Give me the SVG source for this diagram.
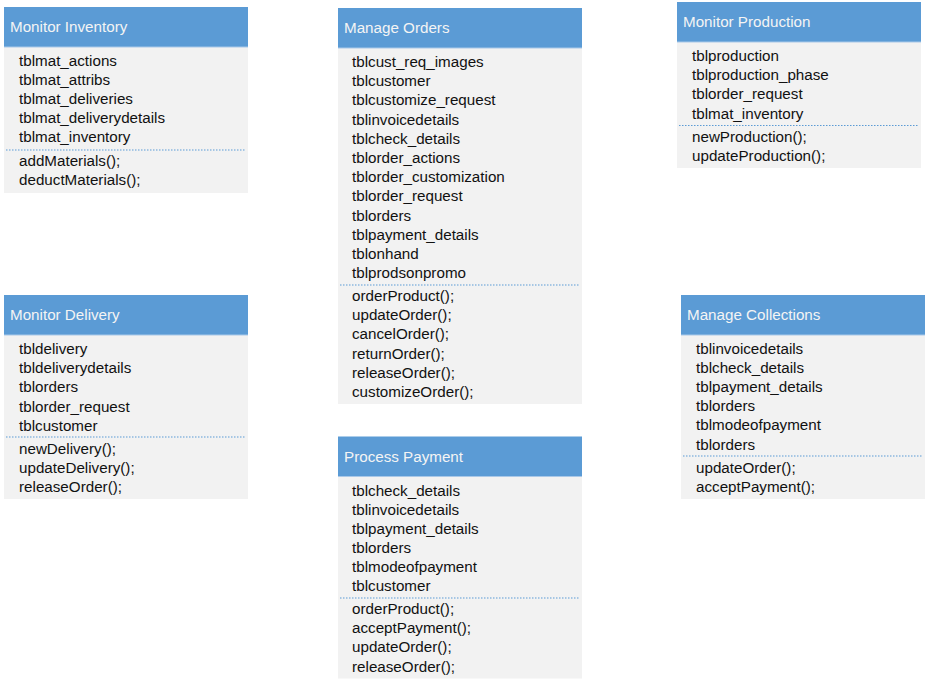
<svg xmlns="http://www.w3.org/2000/svg" width="927" height="685" viewBox="0 0 927 685">
<style>
.hd{fill:#5B9BD5}
.bd{fill:#F2F2F2}
.sep{stroke:#5B9BD5;stroke-width:1;stroke-dasharray:1.5 1.5}
.hl{stroke:#A9C8E8;stroke-width:1}
.ht{font-family:"Liberation Sans",Arial,sans-serif;font-size:15.2px;fill:#F4F4F4}
.t{font-family:"Liberation Sans",Arial,sans-serif;font-size:15.2px;fill:#111111}
</style>
<rect width="927" height="685" fill="#FFFFFF"/>
<g id="connectors"></g>

<g id="monitor-inventory">
<rect class="bd" x="4" y="47" width="244" height="146"/>
<rect class="hd" x="4" y="7" width="244" height="40"/>
<line class="hl" x1="4" y1="47" x2="248" y2="47"/>
<text class="ht" x="10" y="32">Monitor Inventory</text>
<text class="t" x="19" y="66">tblmat_actions</text>
<text class="t" x="19" y="85.1">tblmat_attribs</text>
<text class="t" x="19" y="104.2">tblmat_deliveries</text>
<text class="t" x="19" y="123.3">tblmat_deliverydetails</text>
<text class="t" x="19" y="142.4">tblmat_inventory</text>
<line class="sep" x1="6" y1="150" x2="246" y2="150"/>
<text class="t" x="19" y="166">addMaterials();</text>
<text class="t" x="19" y="185">deductMaterials();</text>
</g>

<g id="manage-orders">
<rect class="bd" x="338" y="48" width="244" height="356"/>
<rect class="hd" x="338" y="8" width="244" height="40"/>
<line class="hl" x1="338" y1="48" x2="582" y2="48"/>
<text class="ht" x="344" y="33">Manage Orders</text>
<text class="t" x="352" y="67">tblcust_req_images</text>
<text class="t" x="352" y="86.2">tblcustomer</text>
<text class="t" x="352" y="105.4">tblcustomize_request</text>
<text class="t" x="352" y="124.6">tblinvoicedetails</text>
<text class="t" x="352" y="143.8">tblcheck_details</text>
<text class="t" x="352" y="163">tblorder_actions</text>
<text class="t" x="352" y="182.2">tblorder_customization</text>
<text class="t" x="352" y="201.4">tblorder_request</text>
<text class="t" x="352" y="220.6">tblorders</text>
<text class="t" x="352" y="239.8">tblpayment_details</text>
<text class="t" x="352" y="259">tblonhand</text>
<text class="t" x="352" y="278.2">tblprodsonpromo</text>
<line class="sep" x1="340" y1="285" x2="580" y2="285"/>
<text class="t" x="352" y="301">orderProduct();</text>
<text class="t" x="352" y="320.2">updateOrder();</text>
<text class="t" x="352" y="339.4">cancelOrder();</text>
<text class="t" x="352" y="358.6">returnOrder();</text>
<text class="t" x="352" y="377.8">releaseOrder();</text>
<text class="t" x="352" y="397">customizeOrder();</text>
</g>

<g id="monitor-production">
<rect class="bd" x="677" y="42" width="244" height="126"/>
<rect class="hd" x="677" y="2" width="244" height="40"/>
<line class="hl" x1="677" y1="42" x2="921" y2="42"/>
<text class="ht" x="683" y="27">Monitor Production</text>
<text class="t" x="692" y="61">tblproduction</text>
<text class="t" x="692" y="80.2">tblproduction_phase</text>
<text class="t" x="692" y="99.4">tblorder_request</text>
<text class="t" x="692" y="118.6">tblmat_inventory</text>
<line class="sep" x1="679" y1="125.5" x2="919" y2="125.5"/>
<text class="t" x="692" y="141.7">newProduction();</text>
<text class="t" x="692" y="160.8">updateProduction();</text>
</g>

<g id="monitor-delivery">
<rect class="bd" x="4" y="335" width="244" height="164"/>
<rect class="hd" x="4" y="295" width="244" height="40"/>
<line class="hl" x1="4" y1="335" x2="248" y2="335"/>
<text class="ht" x="10" y="320">Monitor Delivery</text>
<text class="t" x="19" y="354">tbldelivery</text>
<text class="t" x="19" y="373.2">tbldeliverydetails</text>
<text class="t" x="19" y="392.4">tblorders</text>
<text class="t" x="19" y="411.6">tblorder_request</text>
<text class="t" x="19" y="430.8">tblcustomer</text>
<line class="sep" x1="6" y1="437" x2="246" y2="437"/>
<text class="t" x="19" y="454">newDelivery();</text>
<text class="t" x="19" y="473.1">updateDelivery();</text>
<text class="t" x="19" y="492.2">releaseOrder();</text>
</g>

<g id="process-payment">
<rect class="bd" x="338" y="476.5" width="244" height="202"/>
<rect class="hd" x="338" y="436.5" width="244" height="40"/>
<line class="hl" x1="338" y1="476.5" x2="582" y2="476.5"/>
<text class="ht" x="344" y="461.5">Process Payment</text>
<text class="t" x="352" y="495.5">tblcheck_details</text>
<text class="t" x="352" y="514.6">tblinvoicedetails</text>
<text class="t" x="352" y="533.7">tblpayment_details</text>
<text class="t" x="352" y="552.8">tblorders</text>
<text class="t" x="352" y="571.9">tblmodeofpayment</text>
<text class="t" x="352" y="591">tblcustomer</text>
<line class="sep" x1="340" y1="598" x2="580" y2="598"/>
<text class="t" x="352" y="614">orderProduct();</text>
<text class="t" x="352" y="633.2">acceptPayment();</text>
<text class="t" x="352" y="652.4">updateOrder();</text>
<text class="t" x="352" y="671.6">releaseOrder();</text>
</g>

<g id="manage-collections">
<rect class="bd" x="681" y="335" width="244" height="164"/>
<rect class="hd" x="681" y="295" width="244" height="40"/>
<line class="hl" x1="681" y1="335" x2="925" y2="335"/>
<text class="ht" x="687" y="320">Manage Collections</text>
<text class="t" x="696" y="354">tblinvoicedetails</text>
<text class="t" x="696" y="373.1">tblcheck_details</text>
<text class="t" x="696" y="392.2">tblpayment_details</text>
<text class="t" x="696" y="411.3">tblorders</text>
<text class="t" x="696" y="430.4">tblmodeofpayment</text>
<text class="t" x="696" y="449.5">tblorders</text>
<line class="sep" x1="683" y1="456" x2="923" y2="456"/>
<text class="t" x="696" y="473.3">updateOrder();</text>
<text class="t" x="696" y="492.4">acceptPayment();</text>
</g>
</svg>
